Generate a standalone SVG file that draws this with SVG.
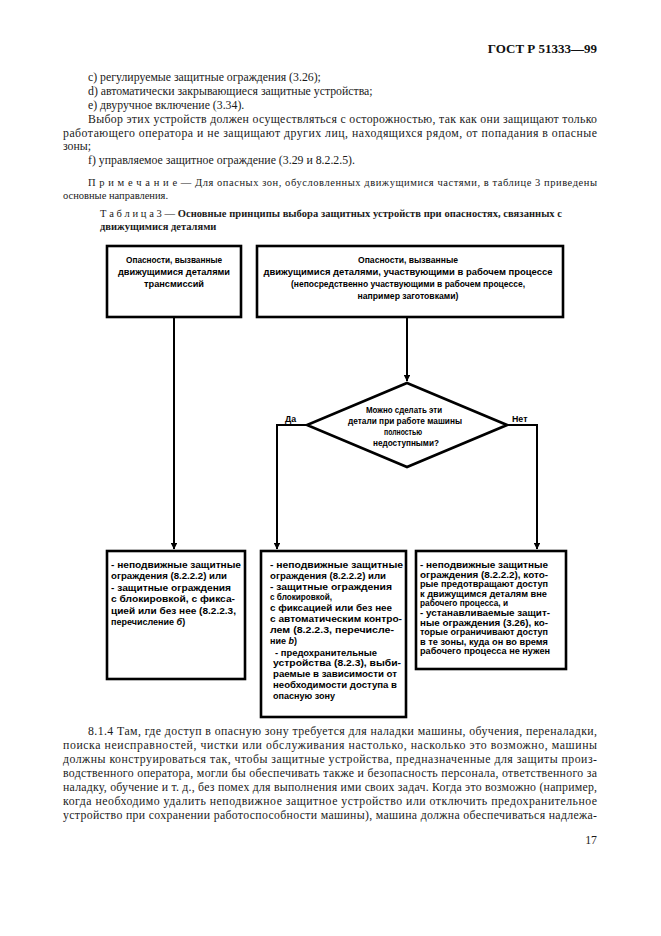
<svg xmlns="http://www.w3.org/2000/svg" width="661" height="936" viewBox="0 0 661 936">
<defs>
<style>
.body{font-family:"Liberation Serif","Times New Roman",serif;font-size:11.8px;fill:#1a1a1a}
.hdr{font-family:"Liberation Serif","Times New Roman",serif;font-size:13px;font-weight:bold;fill:#111}
.cap{font-family:"Liberation Serif","Times New Roman",serif;font-size:10.5px;fill:#1a1a1a}
.capb{font-weight:bold}
.box{fill:#fff;stroke:#000;stroke-width:2.6}
.bt{font-family:"Liberation Sans",Arial,sans-serif;font-size:9.2px;font-weight:bold;fill:#000}
.st{font-family:"Liberation Sans",Arial,sans-serif;font-size:9px;font-weight:bold;fill:#000}
.sc{font-family:"Liberation Sans",Arial,sans-serif;font-size:8.8px;font-weight:bold;fill:#000}
.lbl{font-family:"Liberation Sans",Arial,sans-serif;font-size:8.8px;font-weight:bold;fill:#000}
.conn{fill:none;stroke:#000;stroke-width:2}
</style>
<marker id="arr" viewBox="0 0 6 6" refX="5.5" refY="3" markerWidth="3.4" markerHeight="3.4" orient="auto" markerUnits="strokeWidth">
<path d="M0,0 L6,3 L0,6 Z" fill="#000"/>
</marker>
</defs>
<rect width="661" height="936" fill="#fff"/>

<g id="page-text">
<text class="hdr" x="597" y="53" text-anchor="end">ГОСТ Р 51333—99</text>
<text class="body" x="88" y="81">c)  регулируемые защитные ограждения (3.26);</text>
<text class="body" x="88" y="95">d)  автоматически закрывающиеся защитные устройства;</text>
<text class="body" x="88" y="109">e)  двуручное включение (3.34).</text>
<text class="body" x="88" y="123" textLength="509">Выбор этих устройств должен осуществляться с осторожностью, так как они защищают только</text>
<text class="body" x="63" y="137" textLength="534">работающего оператора и не защищают других лиц, находящихся рядом, от попадания в опасные</text>
<text class="body" x="63" y="150">зоны;</text>
<text class="body" x="88" y="164">f)  управляемое защитное ограждение (3.29 и 8.2.2.5).</text>
<text class="cap" x="88" y="186" textLength="509">П р и м е ч а н и е — Для опасных зон, обусловленных движущимися частями, в таблице 3 приведены</text>
<text class="cap" x="63" y="199">основные направления.</text>
<text class="cap" x="100" y="217" textLength="462">Т а б л и ц а  3 — <tspan class="capb">Основные принципы выбора защитных устройств при опасностях, связанных с</tspan></text>
<text class="cap capb" x="100" y="230">движущимися деталями</text>

<text class="body" x="88" y="735" textLength="509">8.1.4 Там, где доступ в опасную зону требуется для наладки машины, обучения, переналадки,</text>
<text class="body" x="63" y="749" textLength="534">поиска неисправностей, чистки или обслуживания настолько, насколько это возможно, машины</text>
<text class="body" x="63" y="763" textLength="534">должны конструироваться так, чтобы защитные устройства, предназначенные для защиты произ-</text>
<text class="body" x="63" y="777" textLength="534">водственного оператора, могли бы обеспечивать также и безопасность персонала, ответственного за</text>
<text class="body" x="63" y="791" textLength="534">наладку, обучение и т. д., без помех для выполнения ими своих задач. Когда это возможно (например,</text>
<text class="body" x="63" y="805" textLength="534">когда необходимо удалить неподвижное защитное устройство или отключить предохранительное</text>
<text class="body" x="63" y="819" textLength="534">устройство при сохранении работоспособности машины), машина должна обеспечиваться надлежа-</text>
<text class="body" x="597" y="844" text-anchor="end">17</text>
</g>

<g id="connectors">
<path class="conn" d="M174,317 V549" marker-end="url(#arr)"/>
<path class="conn" d="M407,317 V381" marker-end="url(#arr)"/>
<path class="conn" d="M307,425 H277 V549" marker-end="url(#arr)"/>
<path class="conn" d="M507,425 H537 V549" marker-end="url(#arr)"/>
<text class="lbl" x="285" y="422">Да</text>
<text class="lbl" x="512" y="422">Нет</text>
</g>

<g id="hazard-transmission">
<rect class="box" x="107" y="246" width="134" height="71"/>
<text class="bt" x="174" y="263" text-anchor="middle" textLength="96" lengthAdjust="spacingAndGlyphs">Опасности, вызванные</text>
<text class="bt" x="174" y="275" text-anchor="middle" textLength="112" lengthAdjust="spacingAndGlyphs">движущимися деталями</text>
<text class="bt" x="174" y="287" text-anchor="middle" textLength="60" lengthAdjust="spacingAndGlyphs">трансмиссий</text>
</g>

<g id="hazard-process">
<rect class="box" x="257" y="246" width="306" height="71"/>
<text class="bt" x="408" y="263" text-anchor="middle" textLength="100" lengthAdjust="spacingAndGlyphs">Опасности, вызванные</text>
<text class="bt" x="408" y="275" text-anchor="middle" textLength="289" lengthAdjust="spacingAndGlyphs">движущимися деталями, участвующими в рабочем процессе</text>
<text class="bt" x="408" y="287" text-anchor="middle" textLength="234" lengthAdjust="spacingAndGlyphs">(непосредственно участвующими в рабочем процессе,</text>
<text class="bt" x="408" y="299" text-anchor="middle" textLength="101" lengthAdjust="spacingAndGlyphs">например заготовками)</text>
</g>

<g id="decision">
<polygon points="407,383 507,425 407,467 307,425" fill="#fff" stroke="#000" stroke-width="2.6"/>
<text class="lbl" x="404" y="413" text-anchor="middle" textLength="76" lengthAdjust="spacingAndGlyphs">Можно сделать эти</text>
<text class="lbl" x="405" y="424" text-anchor="middle" textLength="114" lengthAdjust="spacingAndGlyphs">детали при работе машины</text>
<text class="lbl" x="403" y="435" text-anchor="middle" textLength="38" lengthAdjust="spacingAndGlyphs">полностью</text>
<text class="lbl" x="406" y="446" text-anchor="middle" textLength="66" lengthAdjust="spacingAndGlyphs">недоступными?</text>
</g>

<g id="guards-transmission">
<rect class="box" x="107" y="551" width="138" height="128"/>
<text class="st" x="111" y="568" textLength="130" lengthAdjust="spacingAndGlyphs">- неподвижные защитные</text>
<text class="st" x="111" y="579.4" textLength="116" lengthAdjust="spacingAndGlyphs">ограждения (8.2.2.2) или</text>
<text class="st" x="111" y="590.8" textLength="120" lengthAdjust="spacingAndGlyphs">- защитные ограждения</text>
<text class="st" x="111" y="602.2" textLength="124" lengthAdjust="spacingAndGlyphs">с блокировкой, с фикса-</text>
<text class="st" x="111" y="613.6" textLength="125" lengthAdjust="spacingAndGlyphs">цией или без нее (8.2.2.3,</text>
<text class="st" x="111" y="625">перечисление <tspan font-style="italic">б</tspan>)</text>
</g>

<g id="guards-yes">
<rect class="box" x="261" y="551" width="145" height="166"/>
<text class="st" x="270" y="568" textLength="133" lengthAdjust="spacingAndGlyphs">- неподвижные защитные</text>
<text class="st" x="270" y="578.8" textLength="116" lengthAdjust="spacingAndGlyphs">ограждения (8.2.2.2) или</text>
<text class="st" x="270" y="589.6" textLength="122" lengthAdjust="spacingAndGlyphs">- защитные ограждения</text>
<text class="st" x="270" y="600.4" textLength="62" lengthAdjust="spacingAndGlyphs">с блокировкой,</text>
<text class="st" x="270" y="611.2" textLength="122" lengthAdjust="spacingAndGlyphs">с фиксацией или без нее</text>
<text class="st" x="270" y="622" textLength="132" lengthAdjust="spacingAndGlyphs">с автоматическим контро-</text>
<text class="st" x="270" y="632.8" textLength="124" lengthAdjust="spacingAndGlyphs">лем (8.2.2.3, перечисле-</text>
<text class="st" x="270" y="643.6">ние <tspan font-style="italic">b</tspan>)</text>
<text class="st" x="275" y="655.6" textLength="102" lengthAdjust="spacingAndGlyphs">- предохранительные</text>
<text class="st" x="273" y="666.4" textLength="128" lengthAdjust="spacingAndGlyphs">устройства (8.2.3), выби-</text>
<text class="st" x="273" y="677.2" textLength="124" lengthAdjust="spacingAndGlyphs">раемые в зависимости от</text>
<text class="st" x="273" y="688" textLength="124" lengthAdjust="spacingAndGlyphs">необходимости доступа в</text>
<text class="st" x="273" y="698.8" textLength="62" lengthAdjust="spacingAndGlyphs">опасную зону</text>
</g>

<g id="guards-no">
<rect class="box" x="416" y="551" width="150" height="118"/>
<text class="sc" x="420" y="568" textLength="128" lengthAdjust="spacingAndGlyphs">- неподвижные защитные</text>
<text class="sc" x="420" y="577.6" textLength="128" lengthAdjust="spacingAndGlyphs">ограждения (8.2.2.2), кото-</text>
<text class="sc" x="420" y="587.2" textLength="128" lengthAdjust="spacingAndGlyphs">рые предотвращают доступ</text>
<text class="sc" x="420" y="596.8" textLength="127" lengthAdjust="spacingAndGlyphs">к движущимся деталям вне</text>
<text class="sc" x="420" y="606.4" textLength="88" lengthAdjust="spacingAndGlyphs">рабочего процесса, и</text>
<text class="sc" x="420" y="616" textLength="130" lengthAdjust="spacingAndGlyphs">- устанавливаемые защит-</text>
<text class="sc" x="420" y="625.6" textLength="128" lengthAdjust="spacingAndGlyphs">ные ограждения (3.26), ко-</text>
<text class="sc" x="420" y="635.2" textLength="128" lengthAdjust="spacingAndGlyphs">торые ограничивают доступ</text>
<text class="sc" x="420" y="644.8" textLength="128" lengthAdjust="spacingAndGlyphs">в те зоны, куда он во время</text>
<text class="sc" x="420" y="654.4" textLength="130" lengthAdjust="spacingAndGlyphs">рабочего процесса не нужен</text>
</g>
</svg>
